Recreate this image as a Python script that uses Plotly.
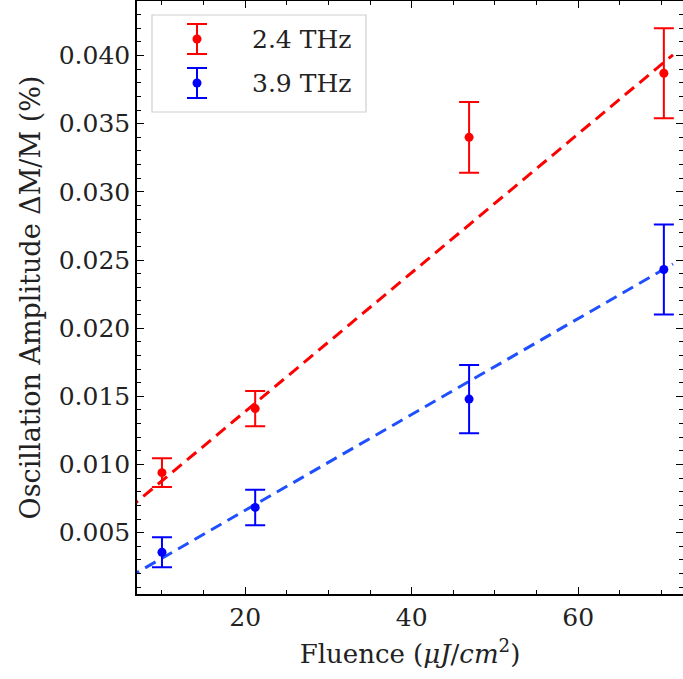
import plotly.graph_objects as go
import numpy as np

# ---- data ----
fluence = [10.0, 21.2, 46.9, 70.3]
amp_24 = [0.0094, 0.0141, 0.0340, 0.0387]
err_24 = [0.00106, 0.0013, 0.0026, 0.0033]
amp_39 = [0.00356, 0.00685, 0.0148, 0.0243]
err_39 = [0.0011, 0.0013, 0.0025, 0.0033]
fit_24 = (0.000509, 0.00371)     # slope, intercept
fit_39 = (0.0003515, -0.00039)
fit_x = [6.0, 71.4]
x_range = [7.0, 72.6]
y_range = [0.0005, 0.0440]
labels = ["2.4 THz", "3.9 THz"]

RED = "#ff0000"
BLUE = "#0000ff"
BLUE_FIT = "#1f4fff"
FONT = "DejaVu Serif"
TXT = "#222222"

fig = go.Figure()

xf = np.array(fit_x)
fig.add_trace(go.Scatter(x=xf, y=fit_24[0] * xf + fit_24[1], mode="lines",
                         line=dict(color=RED, width=3, dash="12px,7px"),
                         showlegend=False, hoverinfo="skip"))
fig.add_trace(go.Scatter(x=xf, y=fit_39[0] * xf + fit_39[1], mode="lines",
                         line=dict(color=BLUE_FIT, width=3, dash="12px,7px"),
                         showlegend=False, hoverinfo="skip"))

fig.add_trace(go.Scatter(x=fluence, y=amp_24, mode="markers", name=labels[0],
                         marker=dict(color=RED, size=9),
                         error_y=dict(type="data", array=err_24, color=RED,
                                      thickness=2, width=10),
                         showlegend=False))
fig.add_trace(go.Scatter(x=fluence, y=amp_39, mode="markers", name=labels[1],
                         marker=dict(color=BLUE, size=9),
                         error_y=dict(type="data", array=err_39, color=BLUE,
                                      thickness=2, width=10),
                         showlegend=False))

W, H = 683, 679
ml, mr, mt, mb = 137, 0, 1, 85
pw, ph = W - ml - mr, H - mt - mb


def px(xp):
    return (xp - ml) / pw


def py(yp):
    return (H - mb - yp) / ph


shapes = []
annotations = []
# legend frame
shapes.append(dict(type="rect", xref="paper", yref="paper",
                   x0=px(152), x1=px(366), y0=py(112), y1=py(15),
                   line=dict(color="#d0d0d0", width=1.2),
                   fillcolor="rgba(255,255,255,0.8)", layer="above"))
entries = [(labels[0], RED, 39, 15), (labels[1], BLUE, 83, 15)]
for text, col, yc, half in entries:
    gx = 197
    shapes.append(dict(type="line", xref="paper", yref="paper",
                       x0=px(gx), x1=px(gx), y0=py(yc - half), y1=py(yc + half),
                       line=dict(color=col, width=2), layer="above"))
    for yy in (yc - half, yc + half):
        shapes.append(dict(type="line", xref="paper", yref="paper",
                           x0=px(gx - 10), x1=px(gx + 10), y0=py(yy), y1=py(yy),
                           line=dict(color=col, width=2), layer="above"))
    shapes.append(dict(type="circle", xref="paper", yref="paper",
                       x0=px(gx - 4.5), x1=px(gx + 4.5),
                       y0=py(yc + 4.5), y1=py(yc - 4.5),
                       fillcolor=col, line=dict(color=col, width=0), layer="above"))
    annotations.append(dict(text=text, xref="paper", yref="paper",
                            x=px(250), y=py(yc + 1), xanchor="left", yanchor="middle",
                            showarrow=False, font=dict(family=FONT, size=25, color=TXT)))

axis_common = dict(showline=True, linecolor="black", linewidth=1.5, mirror="allticks",
                   ticks="inside", ticklen=7, tickwidth=1.2, tickcolor="black",
                   showgrid=False, zeroline=False, automargin=False,
                   tickfont=dict(family=FONT, size=25, color=TXT))

fig.update_layout(
    width=W, height=H,
    margin=dict(l=ml, r=mr, t=mt, b=mb, autoexpand=False),
    plot_bgcolor="white", paper_bgcolor="white",
    showlegend=False,
    shapes=shapes, annotations=annotations,
    xaxis=dict(range=x_range, tick0=0, dtick=20,
               minor=dict(dtick=5, ticks="inside", ticklen=4, tickcolor="black", tickwidth=1),
               title=dict(text="Fluence (<i>μJ</i>/<i>cm</i><sup>2</sup>)",
                          font=dict(family=FONT, size=26, color=TXT), standoff=14),
               **axis_common),
    yaxis=dict(range=y_range, tick0=0, dtick=0.005, tickformat=".3f",
               minor=dict(dtick=0.001, ticks="inside", ticklen=4, tickcolor="black", tickwidth=1),
               title=dict(text="Oscillation Amplitude ΔM/M (%)",
                          font=dict(family=FONT, size=27, color=TXT), standoff=10),
               **axis_common),
)

fig.write_html("out.html", config={"displayModeBar": False},
               post_script="document.body.style.margin='0';document.body.style.overflow='hidden';")
